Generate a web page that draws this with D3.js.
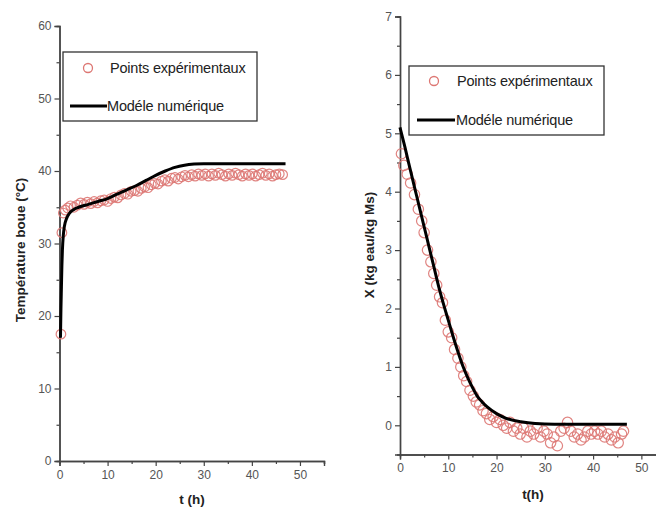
<!DOCTYPE html>
<html><head><meta charset="utf-8">
<script src="https://cdn.jsdelivr.net/npm/d3@7"></script>
<style>
body{margin:0;background:#fff;}
svg{display:block;font-family:"Liberation Sans",Arial,sans-serif;}
</style></head><body>
<svg id="c" width="656" height="510"></svg>
<script>
// ---- Left chart: temperature ----
const tempExpT = [0.3,0.5,0.8,1.2,1.7,2.3,3.0,3.7,4.4,5.1,5.8,6.5,7.2,7.9,8.6,9.3,10.0,10.7,11.4,12.1,12.8,13.5,14.2,14.9,15.6,16.3,17.0,17.7,18.4,19.1,19.8,20.5,21.2,21.9,22.6,23.3,24.0,24.7,25.4,26.1,26.8,27.5,28.2,28.9,29.6,30.3,31.0,31.7,32.4,33.1,33.8,34.5,35.2,35.9,36.6,37.3,38.0,38.7,39.4,40.1,40.8,41.5,42.2,42.9,43.6,44.3,45.0,45.7,46.4];
const tempExpV = [17.5,31.5,34.2,34.6,34.9,35.2,35.0,35.3,35.6,35.4,35.7,35.5,35.8,35.6,35.9,36.0,35.8,36.2,36.4,36.3,36.7,36.9,36.8,37.2,37.3,37.2,37.6,37.8,37.7,38.1,38.3,38.2,38.6,38.8,38.6,39.0,39.1,38.9,39.2,39.4,39.2,39.5,39.3,39.6,39.4,39.6,39.3,39.6,39.4,39.7,39.5,39.3,39.6,39.4,39.7,39.5,39.3,39.6,39.4,39.6,39.3,39.5,39.7,39.4,39.6,39.3,39.5,39.6,39.5];
const tempModT = [0.2,0.3,0.4,0.5,0.6,0.8,1.0,1.5,2,3,4,6,8,10,12,14,16,18,20,22,24,26,28,30,35,40,47];
const tempModV = [17,21,24,27,29,31.2,32.3,33.5,34.1,34.7,35.0,35.4,35.8,36.2,36.8,37.4,38.0,38.7,39.4,40.0,40.5,40.8,40.95,41,41,41,41];
const tempYTicks = [0,10,20,30,40,50,60];
const tempXTicks = [0,10,20,30,40,50];

// ---- Right chart: moisture content ----
const xExpT = [0.3,0.8,1.5,2.2,3.0,3.8,4.5,5.0,5.7,6.4,7.0,7.6,8.2,8.8,9.4,10.0,10.7,11.3,12.0,12.6,13.2,13.8,14.5,15.2,15.8,16.5,17.2,17.9,18.6,19.3,20.0,20.7,21.4,22.1,22.8,23.5,24.2,24.9,25.6,26.3,27.0,27.7,28.4,29.1,29.8,30.5,31.2,31.9,32.6,33.3,34.0,34.7,35.4,36.1,36.8,37.5,38.2,38.9,39.6,40.3,41.0,41.7,42.4,43.1,43.8,44.5,45.2,45.9,46.3];
const xExpV = [4.65,4.45,4.3,4.15,3.95,3.7,3.5,3.3,3.0,2.8,2.6,2.4,2.2,2.1,1.8,1.6,1.5,1.3,1.15,1.0,0.85,0.75,0.6,0.5,0.4,0.35,0.25,0.2,0.1,0.15,0.05,0.1,0.0,-0.05,0.05,-0.1,-0.05,-0.15,-0.05,-0.2,-0.1,-0.15,-0.05,-0.2,-0.1,-0.15,-0.3,-0.2,-0.35,-0.1,-0.05,0.05,-0.1,-0.2,-0.15,-0.25,-0.2,-0.1,-0.15,-0.1,-0.15,-0.1,-0.2,-0.15,-0.25,-0.2,-0.3,-0.15,-0.1];
const xModT = [0,1,2,3,4,5,6,7,8,9,10,11,12,13,14,15,16,17,18,20,22,25,28,32,40,47];
const xModV = [5.1,4.77,4.42,4.08,3.74,3.4,3.06,2.72,2.38,2.08,1.8,1.52,1.26,1.02,0.82,0.65,0.5,0.4,0.32,0.2,0.12,0.06,0.03,0.02,0.02,0.02];
const xYTicks = [0,1,2,3,4,5,6,7];
const xXTicks = [0,10,20,30,40,50];

const legendLabels = ["Points expérimentaux","Modéle numérique"];

const svg = d3.select("#c");
const ptColor = "#dd7773";
const axColor = "#444";

function panel(cfg){
  const g = svg.append("g");
  const x = d3.scaleLinear().domain(cfg.xDomain).range(cfg.xRange);
  const y = d3.scaleLinear().domain(cfg.yDomain).range(cfg.yRange);
  const yAx = d3.axisLeft(y).tickValues(cfg.yTicks).tickSize(5).tickPadding(3).tickFormat(d3.format("d"));
  const xAx = d3.axisBottom(x).tickValues(cfg.xTicks).tickSize(5).tickPadding(4).tickFormat(d3.format("d"));
  const yMinor = d3.axisLeft(y).tickValues(cfg.yMinor).tickSize(3).tickFormat("");
  const xMinor = d3.axisBottom(x).tickValues(cfg.xMinor).tickSize(3).tickFormat("");
  g.append("g").attr("transform",`translate(${cfg.xRange[0]},0)`).call(yAx);
  g.append("g").attr("transform",`translate(0,${cfg.yRange[0]})`).call(xAx);
  g.append("g").attr("transform",`translate(${cfg.xRange[0]},0)`).call(yMinor);
  g.append("g").attr("transform",`translate(0,${cfg.yRange[0]})`).call(xMinor);
  g.selectAll(".domain").attr("stroke",axColor).attr("stroke-width",1.4);
  g.selectAll(".tick line").attr("stroke",axColor).attr("stroke-width",1.2);
  g.selectAll(".tick text").attr("fill","#555").style("font-size","12px").style("font-family","'Liberation Sans',Arial,sans-serif");
  g.append("g").selectAll("circle").data(cfg.expT.map((t,i)=>[t,cfg.expV[i]])).join("circle")
    .attr("cx",d=>x(d[0])).attr("cy",d=>y(d[1])).attr("r",cfg.r)
    .attr("fill","none").attr("stroke",ptColor).attr("stroke-width",1.2).attr("opacity",0.9);
  const line = d3.line().x(d=>x(d[0])).y(d=>y(d[1])).curve(d3.curveMonotoneX);
  g.append("path").datum(cfg.modT.map((t,i)=>[t,cfg.modV[i]]))
    .attr("d",line).attr("fill","none").attr("stroke","#000").attr("stroke-width",3);
  const L = cfg.legend;
  g.append("rect").attr("x",L.x).attr("y",L.y).attr("width",L.w).attr("height",L.h)
    .attr("fill","#fff").attr("stroke","#333").attr("stroke-width",1.3);
  g.append("circle").attr("cx",L.mx).attr("cy",L.y1).attr("r",4.5).attr("fill","none").attr("stroke",ptColor).attr("stroke-width",1.3);
  g.append("text").attr("x",L.tx1).attr("y",L.y1).attr("dy","0.35em").text(legendLabels[0])
    .attr("fill","#222").style("font-size","14.5px").attr("letter-spacing","-0.2");
  g.append("line").attr("x1",L.lx1).attr("x2",L.lx2).attr("y1",L.y2).attr("y2",L.y2).attr("stroke","#000").attr("stroke-width",3);
  g.append("text").attr("x",L.tx2).attr("y",L.y2).attr("dy","0.35em").text(legendLabels[1])
    .attr("fill","#222").style("font-size","14.5px").attr("letter-spacing","-0.2");
  g.append("text").attr("transform",`translate(${cfg.yTitle.x},${cfg.yTitle.y}) rotate(-90)`)
    .attr("text-anchor","middle").attr("dy","0.35em").text(cfg.yTitle.t)
    .style("font-weight","bold").style("font-size","13.5px").attr("fill","#222");
  g.append("text").attr("x",cfg.xTitle.x).attr("y",cfg.xTitle.y).attr("dy","0.35em")
    .attr("text-anchor","middle").text(cfg.xTitle.t)
    .style("font-weight","bold").style("font-size","13.5px").attr("fill","#222");
}

panel({
  xDomain:[0,55], xRange:[59.5,324], yDomain:[0,60], yRange:[461,26],
  yTicks:tempYTicks, xTicks:tempXTicks,
  yMinor:[5,15,25,35,45,55], xMinor:[5,15,25,35,45,55], r:4.8,
  expT:tempExpT, expV:tempExpV, modT:tempModT, modV:tempModV,
  legend:{x:63,y:52,w:194,h:69,mx:88,y1:68,tx1:110,lx1:70,lx2:107,y2:106,tx2:107},
  yTitle:{x:20,y:250,t:"Température boue (°C)"},
  xTitle:{x:192,y:499,t:"t (h)"}
});

panel({
  xDomain:[0,55], xRange:[400,665.5], yDomain:[-0.5,7], yRange:[454.5,16.5],
  yTicks:xYTicks, xTicks:xXTicks,
  yMinor:[0.5,1.5,2.5,3.5,4.5,5.5,6.5], xMinor:[5,15,25,35,45,55], r:5.2,
  expT:xExpT, expV:xExpV, modT:xModT, modV:xModV,
  legend:{x:409,y:66,w:195,h:69,mx:434,y1:81,tx1:457,lx1:417,lx2:455,y2:120,tx2:456},
  yTitle:{x:369,y:245,t:"X (kg eau/kg Ms)"},
  xTitle:{x:533,y:494,t:"t(h)"}
});
</script>
</body></html>
